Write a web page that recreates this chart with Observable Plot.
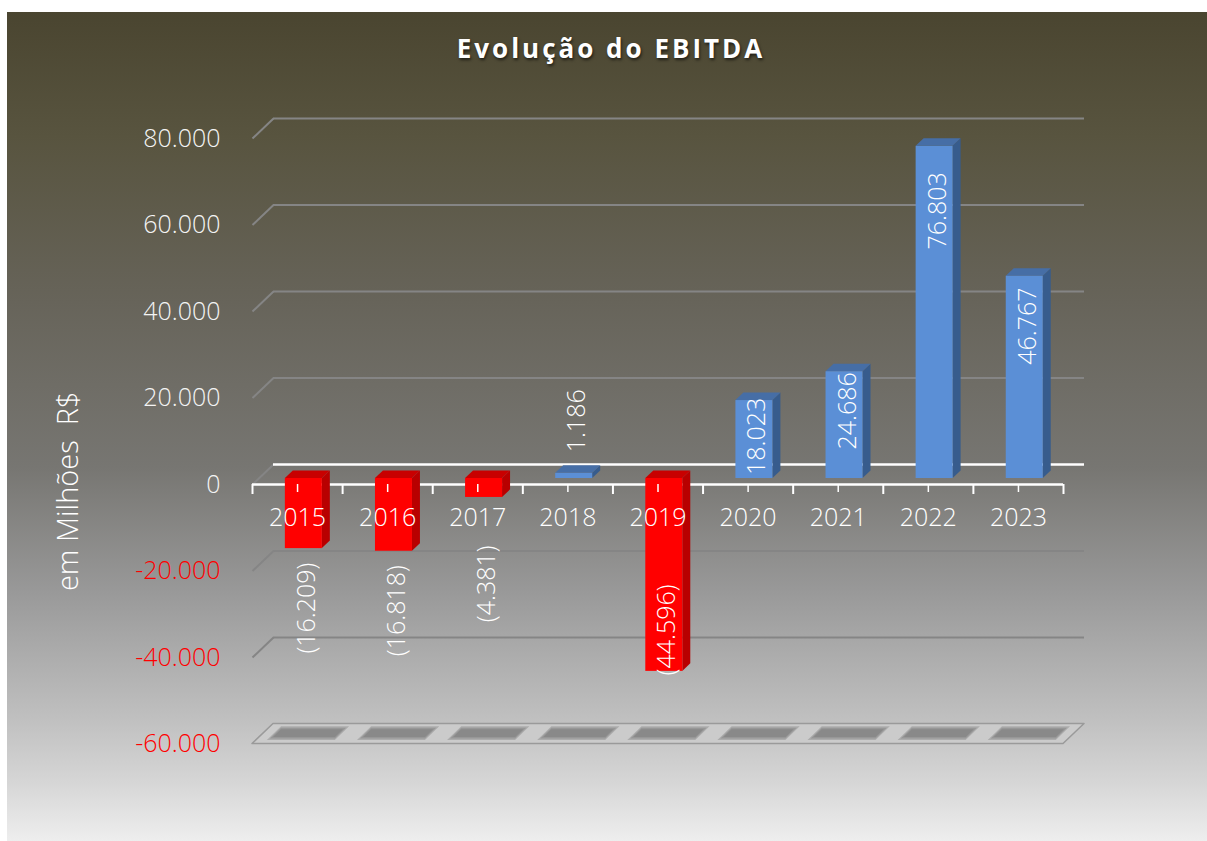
<!DOCTYPE html>
<html>
<head>
<meta charset="utf-8">
<script src="https://cdn.jsdelivr.net/npm/d3@7"></script>
<script src="https://cdn.jsdelivr.net/npm/@observablehq/plot@0.6"></script>
<style>
  html, body { margin: 0; padding: 0; background: #ffffff; }
  #chart {
    position: absolute; left: 7px; top: 12px; width: 1200px; height: 829px; overflow: hidden;
    background: linear-gradient(to bottom, #4a4530 0%, #58543f 15%, #67645a 35%, #777672 55%, #999999 70%, #bfbfbf 85%, #d6d6d6 93%, #eeeeee 100%);
    font-family: 'Open Sans', sans-serif;
  }
  #title {
    position: absolute; left: 4px; top: 21px; width: 1200px; text-align: center;
    font-size: 26px; line-height: 30px; font-weight: bold; color: #ffffff; letter-spacing: 3px;
    text-shadow: 1px 2px 3px rgba(0,0,0,0.6);
  }
  #plot { position: absolute; left: 0; top: 70px; }
  #plot text { white-space: pre; }
</style>
</head>
<body>
<div id="chart">
  <div id="title">Evolução do EBITDA</div>
  <div id="plot"></div>
</div>
<script>
// ---- data ----
const years = ["2015", "2016", "2017", "2018", "2019", "2020", "2021", "2022", "2023"];
const ebitda = [-16209, -16818, -4381, 1186, -44596, 18023, 24686, 76803, 46767];
const yTicks = [80000, 60000, 40000, 20000, 0, -20000, -40000, -60000];
const yTickLabels = ["80.000", "60.000", "40.000", "20.000", "0", "-20.000", "-40.000", "-60.000"];
const yTitle = "em Milhões  R$";

// ---- layout ----
const W = 1200, H = 759, ML = 245, MR = 144, MT = 56, MB = 97.5;
const YMIN = -60000, YMAX = 80000;
const N = years.length;
const pxX = (W - ML - MR) / N;
const pxY = (H - MT - MB) / (YMAX - YMIN);
const DX = 21 / pxX, DY = 20 / pxY;      // depth of the 3D box in data units
const F0 = 0.30, F1 = 0.68;               // bar depth fractions
const HW = 18.5 / pxX;                    // half bar width
const FS = 25, FW = 300;

const rows = years.map((year, i) => ({year, i, value: ebitda[i], neg: ebitda[i] < 0}));
const fmtNum = v => d3.format(",")(Math.abs(v)).replace(/,/g, ".");
const fmtLabel = v => v < 0 ? `(${fmtNum(v)})` : fmtNum(v);

const COL = {
  pos: {front: "#5b8fd6", side: "#375c8d", top: "#466ea6"},
  neg: {front: "#ff0000", side: "#b80000", top: "#c80000"}
};

const fx0 = r => r.i - HW + F0 * DX;
const fx1 = r => r.i + HW + F0 * DX;
const fy = v => v + F0 * DY;
const dDX = (F1 - F0) * DX, dDY = (F1 - F0) * DY;

const sidePts = rows.flatMap(r => [
  {key: r.year, neg: r.neg, x: fx1(r), y1: fy(0), y2: fy(r.value)},
  {key: r.year, neg: r.neg, x: fx1(r) + dDX, y1: fy(0) + dDY, y2: fy(r.value) + dDY}
]);
const topPts = rows.flatMap(r => {
  const t = fy(Math.max(r.value, 0));
  return [
    {key: r.year, neg: r.neg, y: t, x1: fx0(r), x2: fx1(r)},
    {key: r.year, neg: r.neg, y: t + dDY, x1: fx0(r) + dDX, x2: fx1(r) + dDX}
  ];
});
// soft floor shadows: a few nested parallelograms with low opacity (grow in px)
const shadowLayers = [3, 1.5, 0];
const shadowPts = shadowLayers.flatMap(g => rows.flatMap(r => {
  const sw = (31 + g) / pxX, gy = g / pxY;
  const yA = YMIN + 0.33 * DY - gy, yB = YMIN + 0.71 * DY + gy;
  const fA = 0.33 - g / 20, fB = 0.71 + g / 20;
  return [
    {key: r.year + "-" + g, y: yA, x1: r.i - sw + fA * DX, x2: r.i + sw + fA * DX},
    {key: r.year + "-" + g, y: yB, x1: r.i - sw + fB * DX, x2: r.i + sw + fB * DX}
  ];
}));
const floorPts = [
  {y: YMIN, x1: -0.5, x2: N - 0.5},
  {y: YMIN + DY, x1: -0.5 + DX, x2: N - 0.5 + DX}
];

// data label placement (rules, in pixels converted to data units)
const ctx = document.createElement("canvas").getContext("2d");
ctx.font = `${FW} ${FS}px 'Open Sans'`;
const labels = rows.map(r => {
  const text = fmtLabel(r.value);
  const len = ctx.measureText(text).width;
  let cPx; // centre, in px below the zero line (negative = above)
  if (r.value >= 0) {
    const hPx = r.value * pxY;
    if (hPx >= 40) cPx = -0.887 * hPx + 21;
    else cPx = -hPx - 27 - len / 2;
  } else {
    const dPx = -r.value * pxY;
    let top = Math.max(dPx + 8, 61);
    if (top + len > -YMIN * pxY) cPx = dPx - 2 - len / 2;
    else cPx = top + len / 2;
  }
  return {text, x: r.i + F0 * DX + 3 / pxX, y: -cPx / pxY};
});

const boundaries = d3.range(N + 1).map(k => k - 0.5);
const gridVals = yTicks.filter(t => t !== 0 && t !== YMIN);
const GRID = "#858585";

const chart = Plot.plot({
  width: W, height: H,
  marginLeft: ML, marginRight: MR, marginTop: MT, marginBottom: MB,
  x: {type: "linear", domain: [-0.5, N - 0.5], axis: null},
  y: {type: "linear", domain: [YMIN, YMAX], axis: null, nice: false},
  style: {background: "transparent", fontFamily: "'Open Sans', sans-serif", overflow: "visible"},
  marks: [
    // floor
    Plot.areaX(floorPts, {y: "y", x1: "x1", x2: "x2", fill: "#cbcbcb", stroke: "#9a9a9a", strokeWidth: 1.5}),
    Plot.areaX(shadowPts, {y: "y", x1: "x1", x2: "x2", z: "key", fill: "#6e6e6e", fillOpacity: 0.33}),
    // back wall grid lines
    Plot.ruleY(gridVals, {y: t => t + DY, x1: -0.5 + DX, x2: N - 0.5 + DX, stroke: GRID, strokeWidth: 2}),
    Plot.link(yTicks.filter(t => t !== YMIN), {x1: -0.5, y1: t => t, x2: -0.5 + DX, y2: t => t + DY, stroke: GRID, strokeWidth: 2}),
    Plot.ruleY([0], {y: t => t + DY, x1: -0.5 + DX, x2: N - 0.5 + DX, stroke: "#ffffff", strokeWidth: 2.5}),
    // front axis line
    Plot.ruleY([0], {x1: -0.5, x2: N - 0.5, stroke: "#ffffff", strokeWidth: 2.5}),
    // bars: side, top, front
    Plot.areaY(sidePts.filter(d => !d.neg), {x: "x", y1: "y1", y2: "y2", z: "key", fill: COL.pos.side}),
    Plot.areaY(sidePts.filter(d => d.neg), {x: "x", y1: "y1", y2: "y2", z: "key", fill: COL.neg.side}),
    Plot.areaX(topPts.filter(d => !d.neg), {y: "y", x1: "x1", x2: "x2", z: "key", fill: COL.pos.top}),
    Plot.areaX(topPts.filter(d => d.neg), {y: "y", x1: "x1", x2: "x2", z: "key", fill: COL.neg.top}),
    Plot.rect(rows.filter(r => !r.neg), {x1: fx0, x2: fx1, y1: fy(0), y2: r => fy(r.value), fill: COL.pos.front}),
    Plot.rect(rows.filter(r => r.neg), {x1: fx0, x2: fx1, y1: fy(0), y2: r => fy(r.value), fill: COL.neg.front}),
    // axis ticks
    Plot.ruleX(boundaries, {x: d => d, y1: 0, y2: -10 / pxY, stroke: "#ffffff", strokeWidth: 2}),
    Plot.ruleX(rows, {x: "i", y1: 0, y2: -8 / pxY, stroke: "#ffffff", strokeWidth: 1.5}),
    // category labels
    Plot.text(rows, {x: "i", y: 0, dy: 33, text: "year", fill: "#ffffff", fontSize: FS, fontWeight: FW}),
    // value axis labels
    Plot.text(yTicks.map((t, k) => ({t, label: yTickLabels[k]})).filter(d => d.t >= 0),
      {x: -0.5, y: "t", text: "label", dx: -32, textAnchor: "end", fill: "#f4f4f4", fontSize: FS, fontWeight: FW}),
    Plot.text(yTicks.map((t, k) => ({t, label: yTickLabels[k]})).filter(d => d.t < 0),
      {x: -0.5, y: "t", text: "label", dx: -32, textAnchor: "end", fill: "#ff0000", fontSize: FS, fontWeight: FW}),
    // axis title
    Plot.text([yTitle], {frameAnchor: "left", textAnchor: "middle", text: d => d, dx: -184, dy: 50, rotate: -90, fill: "#ffffff", fontSize: 29, fontWeight: FW}),
    // data labels
    Plot.text(labels, {x: "x", y: "y", text: "text", rotate: -90, fill: "#ffffff", fontSize: FS, fontWeight: FW})
  ]
});

document.getElementById("plot").appendChild(chart);
</script>
</body>
</html>
